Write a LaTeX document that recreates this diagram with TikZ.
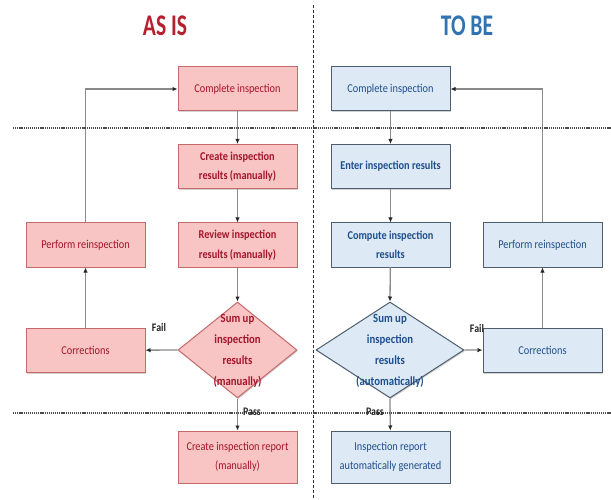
\documentclass[tikz,border=0pt]{standalone}
\usepackage{fontspec}
\setmainfont{Carlito}
\newfontfamily\titlefont[FakeStretch=0.72]{Carlito}
\newfontfamily\boxfont[FakeStretch=0.86]{Carlito}
\usetikzlibrary{arrows.meta,shapes.geometric,shadows}
\definecolor{asfill}{HTML}{F9C4C4}
\definecolor{asline}{HTML}{C46A6A}
\definecolor{astext}{HTML}{A3152A}
\definecolor{astitle}{HTML}{B51F2E}
\definecolor{tbfill}{HTML}{DDEAF6}
\definecolor{tbline}{HTML}{4F5E6E}
\definecolor{tbtext}{HTML}{1F4E8C}
\definecolor{tbtitle}{HTML}{2F73B3}
\definecolor{conn}{HTML}{8A8A8A}
\tikzset{
  box/.style={rectangle, draw, line width=1pt, minimum width=119pt, minimum height=44pt,
    inner sep=2pt, align=center, font=\boxfont\fontsize{12}{19.5}\selectfont,
    drop shadow={shadow xshift=1pt, shadow yshift=-1.2pt, opacity=0.35}},
  asbox/.style={box, fill=asfill, draw=asline, text=astext},
  tbbox/.style={box, fill=tbfill, draw=tbline, text=tbtext},
  strong/.style={font=\boxfont\bfseries\fontsize{12}{19.5}\selectfont},
  decision/.style={diamond, draw, line width=1pt, minimum height=96pt, inner sep=0pt,
    drop shadow={shadow xshift=1pt, shadow yshift=-1.2pt, opacity=0.35}},
  dectext/.style={align=center, font=\boxfont\bfseries\fontsize{12.5}{21}\selectfont},
  flow/.style={draw=conn, line width=1.3pt, -{Latex[length=5pt,width=4.5pt,color=black!85]}},
  tag/.style={font=\boxfont\bfseries\fontsize{11.5}{12}\selectfont, text=black!85, inner sep=0pt},
  title/.style={font=\titlefont\bfseries\fontsize{30}{32}\selectfont, inner sep=0pt},
  sep/.style={draw=black!70, line width=1.4pt, dash pattern=on 1.2pt off 0.9pt},
  split/.style={draw=black!80, line width=0.6pt, dash pattern=on 3pt off 2pt},
}
\begin{document}
\begin{tikzpicture}[x=1pt,y=-1pt]
\useasboundingbox[fill=white] (0,0) rectangle (611,500);

% column titles
\node[title, text=astitle] (astitle) at (165,26) {AS IS};
\node[title, text=tbtitle] (tbtitle) at (467,26) {TO BE};

% phase separators
\coordinate (v1) at (313,5);
\coordinate (v2) at (313,500);
\draw[split] (v1) -- (v2);
\coordinate (h1a) at (13,128);
\coordinate (h1b) at (611,128);
\coordinate (h2a) at (13,413);
\coordinate (h2b) at (611,413);

% current process
\node[asbox] (acomp) at (237.5,89) {Complete inspection};
\node[asbox, strong] (acreate) at (237.5,166.5) {Create inspection\\results (manually)};
\node[asbox, strong] (areview) at (237.5,245) {Review inspection\\results (manually)};
\node[decision, fill=asfill, draw=asline, minimum width=119pt] (asum) at (237.5,350) {};
\node[asbox] (areport) at (237.5,457) [minimum height=52pt] {Create inspection report\\(manually)};
\node[asbox] (acorr) at (85.5,350.5) {Corrections};
\node[asbox] (areinsp) at (85.5,245) {Perform reinspection};

% future process
\node[tbbox] (tcomp) at (390.5,89) {Complete inspection};
\node[tbbox, strong] (tenter) at (390.5,166.5) {Enter inspection results};
\node[tbbox, strong] (tcompute) at (390.5,245) {Compute inspection\\results};
\node[decision, fill=tbfill, draw=tbline, minimum width=148pt] (tsum) at (390,350) {};
\node[tbbox] (treport) at (390.5,457) [minimum height=52pt] {Inspection report\\automatically generated};
\node[tbbox] (tcorr) at (542.5,350.5) {Corrections};
\node[tbbox] (treinsp) at (542.5,245) {Perform reinspection};

% current process flow
\draw[flow] (acomp) -- (acreate);
\draw[flow] (acreate) -- (areview);
\draw[flow] (areview) -- (asum.north);
\draw[flow] (asum.south) -- (areport);
\draw[flow] (asum.west) -- (acorr);
\draw[flow] (acorr) -- (areinsp);
\draw[flow] (areinsp.north) |- (acomp.west);

% future process flow
\draw[flow] (tcomp) -- (tenter);
\draw[flow] (tenter) -- (tcompute);
\draw[flow] (tcompute) -- (tsum.north);
\draw[flow] (tsum.south) -- (treport);
\draw[flow] (tsum.east) -- (tcorr);
\draw[flow] (tcorr) -- (treinsp);
\draw[flow] (treinsp.north) |- (tcomp.east);

\draw[sep] (h1a) -- (h1b);
\draw[sep] (h2a) -- (h2b);

% decision texts and branch labels
\node[dectext, text=astext] (asumtext) at (237.5,351) {Sum up\\inspection\\results\\(manually)};
\node[dectext, text=tbtext] (tsumtext) at (390,351) {Sum up\\inspection\\results\\(automatically)};
\node[tag] (afail) at (159,328) {Fail};
\node[tag] (apass) at (252,412) {Pass};
\node[tag] (tfail) at (477,329) {Fail};
\node[tag] (tpass) at (375,412) {Pass};
\end{tikzpicture}
\end{document}
